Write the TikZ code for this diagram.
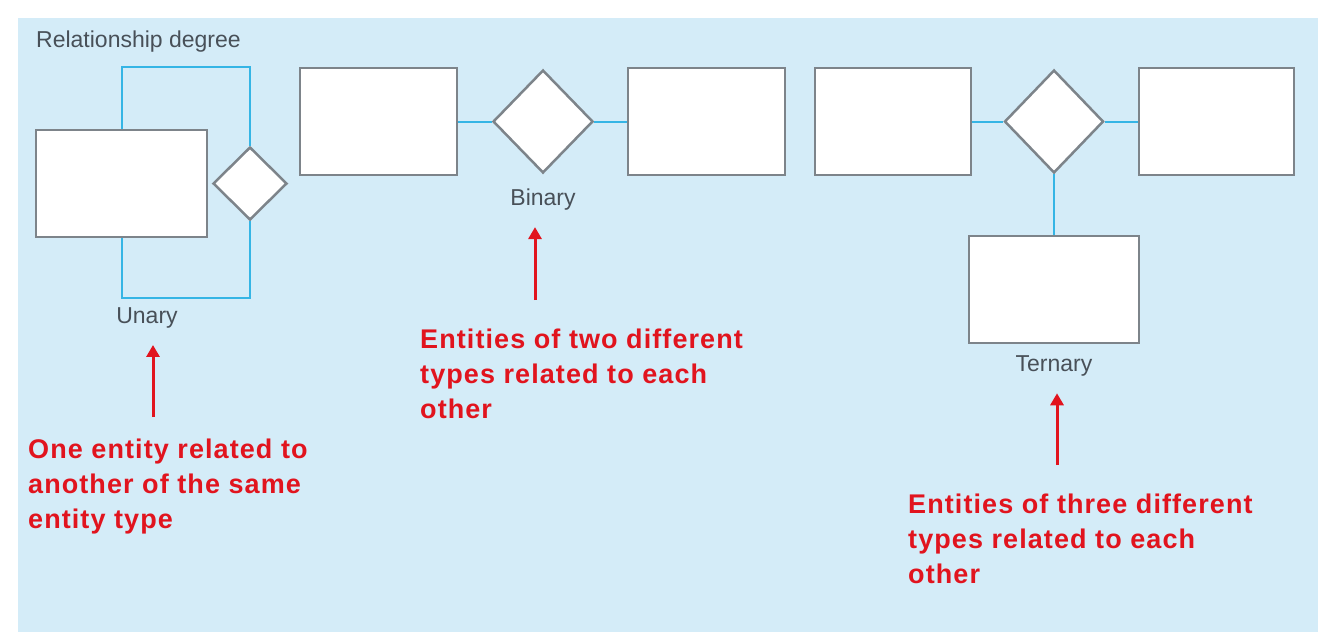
\documentclass[tikz,border=0pt]{standalone}
\usepackage{fontspec}
\setmainfont{Liberation Sans}
\newfontfamily\notefont[LetterSpace=4]{Liberation Sans}
\usepackage{tikz}
\usetikzlibrary{shapes.geometric,arrows.meta,positioning}
\definecolor{bgblue}{RGB}{212,236,248}
\definecolor{boxgrey}{RGB}{125,132,138}
\definecolor{linkblue}{RGB}{53,181,229}
\definecolor{labelgrey}{RGB}{72,80,88}
\definecolor{notered}{RGB}{225,20,30}

\begin{document}
\begin{tikzpicture}[x=1pt, y=-1pt,
  ent/.style = {draw=boxgrey, line width=2.5pt, fill=white, rectangle, minimum width=157pt, minimum height=107pt, inner sep=0},
  rel/.style = {draw=boxgrey, line width=2.5pt, fill=white, diamond, minimum width=100pt, minimum height=103pt, inner sep=0},
  link/.style = {draw=linkblue, line width=2pt},
  lbl/.style = {text=labelgrey, font=\fontsize{23}{27}\selectfont, inner sep=0},
  note/.style = {text=notered, font=\notefont\bfseries\fontsize{27}{35}\selectfont, align=left, anchor=north west, inner sep=0},
  pointer/.style = {draw=notered, line width=3pt, -{Triangle[length=12pt,width=13pt]}, shorten >=17pt}]
\fill[bgblue] (18,18) rectangle (1318,632);
\useasboundingbox (0,0) rectangle (1329,641);
\node[lbl, anchor=base west] (title) at (36,47) {Relationship degree};

% unary
\node[ent, minimum width=171pt] (u1) at (121.5,183.5) {};
\node[rel, minimum width=74pt, minimum height=73pt] (ur) at (250,183.5) {};
\draw[link] (u1.north) -- ++(0,-62) -| (ur.north);
\draw[link] (u1.south) -- ++(0,60) -| (ur.south);
\node[lbl, anchor=base] (ul) at (147,323) {Unary};

% binary
\node[ent] (b1) at (378.5,121.5) {};
\node[rel] (br) at (543,121.5) {};
\node[ent] (b2) at (706.5,121.5) {};
\draw[link] (b1) -- (br);
\draw[link] (br) -- (b2);
\node[lbl, below=14pt of br] (bl) {Binary};

% ternary
\node[ent, minimum width=156pt] (t1) at (893,121.5) {};
\node[rel, minimum width=99pt] (tr) at (1054,121.5) {};
\node[ent, minimum width=155pt] (t2) at (1216.5,121.5) {};
\node[ent, minimum width=170pt] (t3) at (1054,289.5) {};
\draw[link] (t1) -- (tr);
\draw[link] (tr) -- (t2);
\draw[link] (tr) -- (t3);
\node[lbl, below=11pt of t3] (tl) {Ternary};

% notes
\node[note] (un) at (28,438.5) {One entity related to\\another of the same\\entity type};
\node[note] (bn) at (420,328.5) {Entities of two different\\types related to each\\other};
\node[note] (tn) at (908,493.5) {Entities of three different\\types related to each\\other};
\coordinate (ua) at (153,417);
\coordinate (ba) at (535,300);
\coordinate (ta) at (1057,465);
\draw[pointer] (ua) -- (ua |- ul.south);
\draw[pointer] (ba) -- (ba |- bl.south);
\draw[pointer] (ta) -- (ta |- tl.south);
\end{tikzpicture}
\end{document}
